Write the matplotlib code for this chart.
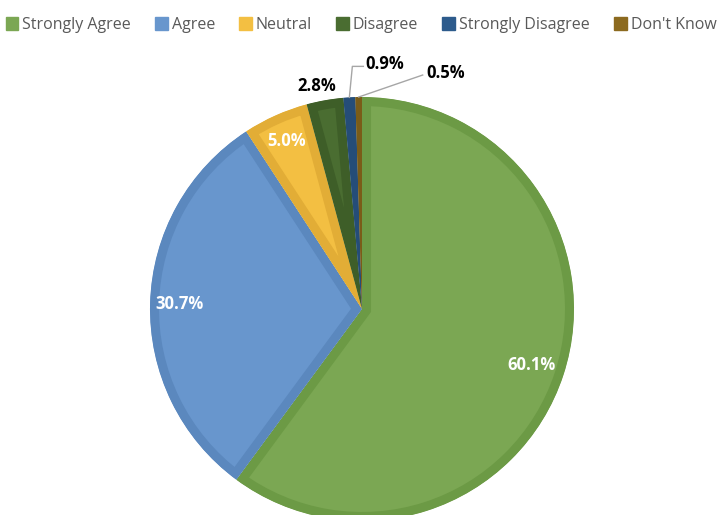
import matplotlib
matplotlib.use("Agg")
import matplotlib.pyplot as plt
import numpy as np

categories = ["Strongly Agree", "Agree", "Neutral", "Disagree", "Strongly Disagree", "Don't Know"]
values = [60.1, 30.7, 5.0, 2.8, 0.9, 0.5]
fill_colors = ["#7BA753", "#6896CD", "#F3BF42", "#4A6D31", "#2D5B8C", "#8C6A1F"]
edge_colors = ["#6C9A45", "#5B88BE", "#E2AD36", "#3E5E28", "#254D78", "#7A5C18"]
label_colors = ["white", "white", "white", "black", "black", "black"]

plt.rcParams['font.family'] = ['Open Sans', 'DejaVu Sans']

fig = plt.figure(figsize=(7.19, 5.15), dpi=100)
ax = fig.add_axes([0, 0, 1, 1])

cx, cy, R = 362, 206, 212
wedges, _ = ax.pie(values, colors=fill_colors, startangle=90, counterclock=False,
                   center=(cx, cy), radius=R, frame=True)
ax.set_xlim(0, 719)
ax.set_ylim(0, 515)
ax.set_aspect('auto')
ax.axis('off')

for w, ec in zip(wedges, edge_colors):
    w.set_edgecolor(ec)
    w.set_linewidth(13)
    w.set_joinstyle('miter')
    w.set_clip_path(w)
    w.set_clip_on(True)

# labels
label_r = [0.84, 0.86, 0.87, 1.07, None, None]
label_dx = [0, 0, 0, -6, 0, 0]
fs = 12
for i, (w, v) in enumerate(zip(wedges, values)):
    ang = np.deg2rad((w.theta1 + w.theta2) / 2)
    txt = f"{v:.1f}%"
    if label_r[i] is not None:
        x = cx + label_r[i] * R * np.cos(ang) + label_dx[i]
        y = cy + label_r[i] * R * np.sin(ang)
        ax.text(x, y, txt, color=label_colors[i], fontsize=fs, fontweight='bold',
                ha='center', va='center')
    else:
        ex = cx + R * np.cos(ang)
        ey = cy + R * np.sin(ang)
        if i == 4:
            ax.plot([ex, ex + 3, ex + 14], [ey, ey + 31, ey + 31], color='#A6A6A6', lw=1)
            ax.text(ex + 16, ey + 33, txt, color='black', fontsize=fs, fontweight='bold',
                    ha='left', va='center')
        else:
            ax.plot([ex, ex + 64], [ey, ey + 22], color='#A6A6A6', lw=1)
            ax.text(ex + 68, ey + 24, txt, color='black', fontsize=fs, fontweight='bold',
                    ha='left', va='center')

handles = [plt.Rectangle((0, 0), 1, 1, facecolor=c, edgecolor=c) for c in fill_colors]
leg = fig.legend(handles, categories, loc='upper center', bbox_to_anchor=(0.502, 0.995),
                 ncol=6, frameon=False, fontsize=11.5, handlelength=0.8, handleheight=0.8,
                 handletextpad=0.25, columnspacing=1.5, labelcolor='#595959')

fig.savefig("out.png", dpi=100)
